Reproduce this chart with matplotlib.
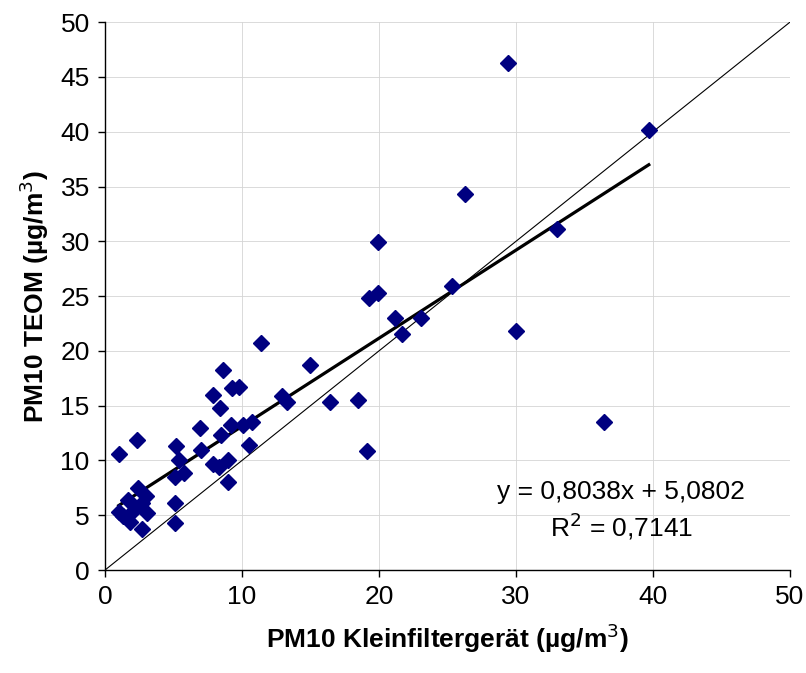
import matplotlib.pyplot as plt
import numpy as np

plt.rcParams['font.family'] = ['Liberation Sans', 'DejaVu Sans']

# PM10 Kleinfiltergerät (x) vs TEOM (y)
klein = [1.0, 2.3, 1.0, 1.3, 1.8, 1.7, 2.1, 2.4, 2.7, 3.0, 3.1, 2.7,
         5.1, 5.1, 5.1, 5.4, 5.8, 5.2, 6.9, 7.0, 7.9, 8.3, 9.0, 9.0,
         7.9, 8.4, 8.5, 8.6, 9.2, 9.3, 9.8, 10.1, 10.7, 10.5, 11.4, 12.9,
         13.3, 15.0, 16.4, 18.5, 19.1, 19.3, 19.9, 19.9, 21.2, 21.7, 23.1, 25.3,
         26.3, 29.4, 30.0, 33.0, 36.4, 39.7]
teom = [10.6, 11.9, 5.3, 4.9, 4.4, 6.4, 5.5, 7.5, 6.1, 6.8, 5.2, 3.7,
        4.3, 6.1, 8.5, 10.0, 8.9, 11.3, 13.0, 11.0, 9.7, 9.4, 10.0, 8.0,
        16.0, 14.8, 12.3, 18.3, 13.2, 16.6, 16.7, 13.2, 13.5, 11.4, 20.7, 15.9,
        15.3, 18.7, 15.3, 15.5, 10.9, 24.8, 25.3, 29.9, 23.0, 21.5, 23.0, 25.9,
        34.3, 46.3, 21.8, 31.1, 13.5, 40.2]

slope = 0.8038
intercept = 5.0802
r2_text = '0,7141'

fig = plt.figure(figsize=(8.06, 6.73), dpi=100)
ax = fig.add_axes([0.1303, 0.153, 0.8497, 0.814])

# 1:1 line
ax.plot([0, 50], [0, 50], color='black', lw=0.8, zorder=2)

# regression line over data range
xx = np.array([min(klein), max(klein)])
ax.plot(xx, slope * xx + intercept, color='black', lw=2.3, zorder=3)

ax.plot(klein, teom, linestyle='none', marker='D', markersize=8.5,
        color='#000080', markeredgecolor='#000080', zorder=4)

ax.text(37.7, 7.1, 'y = 0,8038x + 5,0802', ha='center', va='center', fontsize=19)
ax.text(37.7, 4.0, 'R$^2$ = ' + r2_text, ha='center', va='center', fontsize=19)

ax.set_xlim(0, 50)
ax.set_ylim(0, 50)
ax.set_xticks(np.arange(0, 51, 10))
ax.set_yticks(np.arange(0, 51, 5))
ax.grid(True, color='#d4d4d4', lw=0.6, zorder=0)
ax.set_axisbelow(True)
for s in ['top', 'right']:
    ax.spines[s].set_visible(False)
for s in ['left', 'bottom']:
    ax.spines[s].set_linewidth(1.0)
ax.tick_params(direction='out', length=5, width=1, labelsize=19, pad=6)

ax.set_xlabel('PM10 Kleinfiltergerät (µg/m$^3$)', fontsize=19, fontweight='bold', labelpad=9)
ax.set_ylabel('PM10 TEOM (µg/m$^3$)', fontsize=19, fontweight='bold', labelpad=7)

fig.savefig('out.png', dpi=100)
